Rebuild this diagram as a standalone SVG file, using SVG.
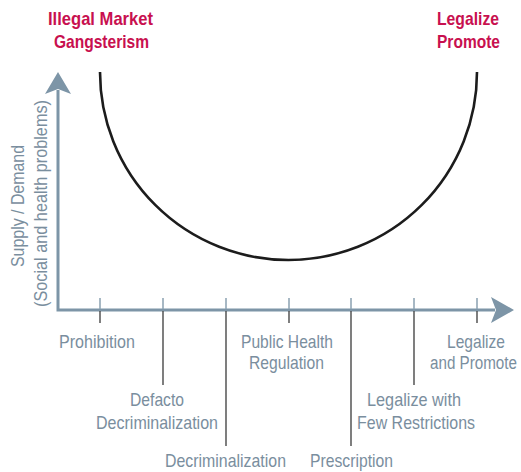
<svg xmlns="http://www.w3.org/2000/svg" width="521" height="472" viewBox="0 0 521 472">
<style>
.lbl{font-family:"Liberation Sans",Arial,sans-serif;font-size:19px;fill:#7a8e9e}
.ttl{font-family:"Liberation Sans",Arial,sans-serif;font-size:18.5px;font-weight:bold;fill:#c8104f}
.tu{stroke:#8aa0b0;stroke-width:1.5}
.td{stroke:#3a3a3a;stroke-width:1.3}
</style>
<rect width="521" height="472" fill="#ffffff"/>
<g id="axes">
<polyline points="58,90 58,310 495,310" fill="none" stroke="#7d95a7" stroke-width="3"/>
<polygon points="58,72 71,94 58,89 45,94" fill="#7d95a7"/>
<polygon points="514,310 491,297 496,310 491,323" fill="#7d95a7"/>
</g>
<g id="curve">
<path d="M100,72 A188.5,188 0 0 0 477,72" fill="none" stroke="#1c1c1c" stroke-width="2.6"/>
</g>
<g id="connectors">
<line class="tu" x1="100" y1="298" x2="100" y2="309"/>
<line class="tu" x1="163" y1="298" x2="163" y2="309"/>
<line class="tu" x1="226" y1="298" x2="226" y2="309"/>
<line class="tu" x1="289" y1="298" x2="289" y2="309"/>
<line class="tu" x1="351" y1="298" x2="351" y2="309"/>
<line class="tu" x1="414" y1="298" x2="414" y2="309"/>
<line class="tu" x1="477" y1="298" x2="477" y2="309"/>
<line class="td" x1="100" y1="311" x2="100" y2="323"/>
<line class="td" x1="163" y1="311" x2="163" y2="385"/>
<line class="td" x1="226" y1="311" x2="226" y2="446"/>
<line class="td" x1="289" y1="311" x2="289" y2="323"/>
<line class="td" x1="351" y1="311" x2="351" y2="446"/>
<line class="td" x1="414" y1="311" x2="414" y2="385"/>
<line class="td" x1="477" y1="311" x2="477" y2="323"/>
</g>
<g id="title-left">
<text class="ttl" x="48" y="25" textLength="105" lengthAdjust="spacingAndGlyphs">Illegal Market</text>
<text class="ttl" x="54" y="48" textLength="95" lengthAdjust="spacingAndGlyphs">Gangsterism</text>
</g>
<g id="title-right">
<text class="ttl" x="437" y="25" textLength="62" lengthAdjust="spacingAndGlyphs">Legalize</text>
<text class="ttl" x="437" y="48" textLength="63" lengthAdjust="spacingAndGlyphs">Promote</text>
</g>
<g id="y-label">
<text class="lbl" transform="translate(24,267) rotate(-90)" x="0" y="0" textLength="122" lengthAdjust="spacingAndGlyphs">Supply / Demand</text>
<text class="lbl" transform="translate(47,307) rotate(-90)" x="0" y="0" textLength="207" lengthAdjust="spacingAndGlyphs">(Social and health problems)</text>
</g>
<g id="prohibition">
<text class="lbl" x="59" y="348" textLength="76" lengthAdjust="spacingAndGlyphs">Prohibition</text>
</g>
<g id="defacto">
<text class="lbl" x="130" y="406" textLength="54" lengthAdjust="spacingAndGlyphs">Defacto</text>
<text class="lbl" x="96" y="429" textLength="122" lengthAdjust="spacingAndGlyphs">Decriminalization</text>
</g>
<g id="decriminalization">
<text class="lbl" x="165" y="467" textLength="121" lengthAdjust="spacingAndGlyphs">Decriminalization</text>
</g>
<g id="public-health">
<text class="lbl" x="241" y="348" textLength="92" lengthAdjust="spacingAndGlyphs">Public Health</text>
<text class="lbl" x="249" y="369" textLength="75" lengthAdjust="spacingAndGlyphs">Regulation</text>
</g>
<g id="prescription">
<text class="lbl" x="310" y="467" textLength="83" lengthAdjust="spacingAndGlyphs">Prescription</text>
</g>
<g id="legalize-few">
<text class="lbl" x="367" y="406" textLength="94" lengthAdjust="spacingAndGlyphs">Legalize with</text>
<text class="lbl" x="357" y="429" textLength="118" lengthAdjust="spacingAndGlyphs">Few Restrictions</text>
</g>
<g id="legalize-promote">
<text class="lbl" x="447" y="348" textLength="58" lengthAdjust="spacingAndGlyphs">Legalize</text>
<text class="lbl" transform="translate(430,369) scale(0.8,1)" x="0" y="0">and Promote</text>
</g>
</svg>
